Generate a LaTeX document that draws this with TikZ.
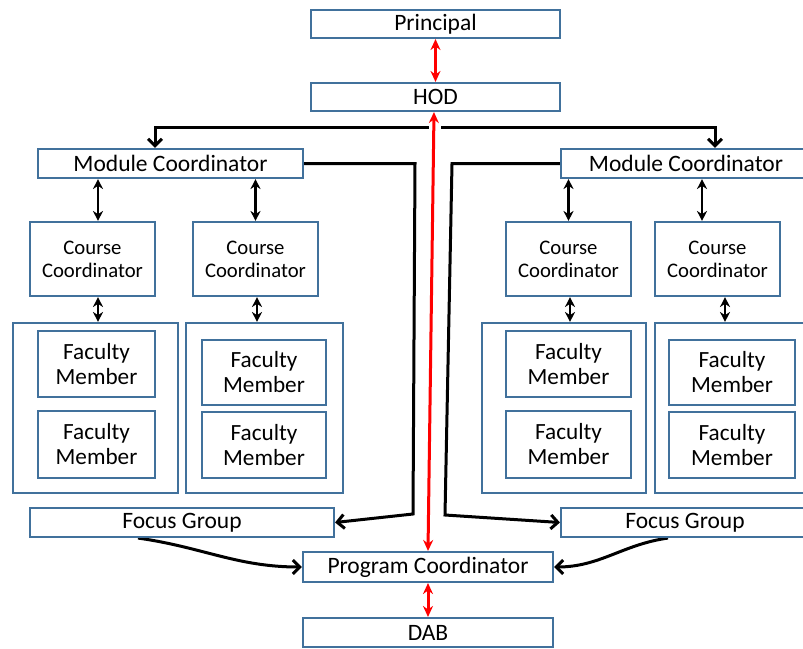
\documentclass[tikz,border=0pt]{standalone}
\usepackage{fontspec}
\setmainfont{Carlito}
\usetikzlibrary{arrows.meta}
\definecolor{boxblue}{HTML}{41719C}
\pgfdeclarelayer{bg}
\pgfsetlayers{bg,main}
\tikzset{
  box/.style={draw=boxblue, line width=2.1pt, fill=white, inner sep=0pt, align=center,
    font=\fontsize{23.5}{25}\selectfont},
  facbox/.style={box, font=\fontsize{23.2}{25}\selectfont},
  smallbox/.style={box, font=\fontsize{20.7}{23}\selectfont},
  grp/.style={draw=boxblue, line width=2.1pt, fill=white, inner sep=0pt},
  dbl/.style={line width=2.8pt, {Stealth[length=10pt,width=10pt]}-{Stealth[length=10pt,width=10pt]}},
  link/.style={line width=3pt, -{Straight Barb[length=7pt,width=14pt]}},
  redlink/.style={red, line width=3pt, {Stealth[length=11pt,width=10pt]}-{Stealth[length=11pt,width=10pt]}}
}

\begin{document}
\begin{tikzpicture}[x=1pt,y=-1pt]
  \useasboundingbox (0,0) rectangle (803,648);
  % top of the chart
  \node (prin) [box, minimum width=249pt, minimum height=28pt] at (435.5,24) {Principal};
  \node (hod) [box, minimum width=249pt, minimum height=28pt] at (435.5,97) {HOD};

  \node (mcL) [box, minimum width=265pt, minimum height=29pt] at (170.5,163.5) {Module Coordinator};
  \node (mcR) [box, minimum width=250pt, minimum height=29pt] at (686,163.5) {Module Coordinator};

  \node (ccL1) [smallbox, minimum width=125pt, minimum height=74pt] at (92.5,259) {Course\\Coordinator};
  \node (ccL2) [smallbox, minimum width=125pt, minimum height=74pt] at (255.5,259) {Course\\Coordinator};
  \node (ccR1) [smallbox, minimum width=125pt, minimum height=74pt] at (568.5,259) {Course\\Coordinator};
  \node (ccR2) [smallbox, minimum width=125pt, minimum height=74pt] at (717.5,259) {Course\\Coordinator};

  % faculty groups
  \node (gL1) [grp, minimum width=165pt, minimum height=170pt] at (95.5,408) {};
  \node (gL2) [grp, minimum width=157pt, minimum height=170pt] at (264.5,408) {};
  \node (gR1) [grp, minimum width=164pt, minimum height=170pt] at (564,408) {};
  \node (gR2) [grp, minimum width=154pt, minimum height=170pt] at (732,408) {};

  \node (fL1a) [facbox, minimum width=117pt, minimum height=66pt] at (96.5,364) {Faculty\\Member};
  \node (fL1b) [facbox, minimum width=117pt, minimum height=67pt] at (96.5,444.5) {Faculty\\Member};
  \node (fL2a) [facbox, minimum width=124pt, minimum height=65pt] at (264,372.5) {Faculty\\Member};
  \node (fL2b) [facbox, minimum width=124pt, minimum height=66pt] at (264,445) {Faculty\\Member};
  \node (fR1a) [facbox, minimum width=125pt, minimum height=66pt] at (568.5,364) {Faculty\\Member};
  \node (fR1b) [facbox, minimum width=125pt, minimum height=67pt] at (568.5,444.5) {Faculty\\Member};
  \node (fR2a) [facbox, minimum width=126pt, minimum height=65pt] at (732,372.5) {Faculty\\Member};
  \node (fR2b) [facbox, minimum width=126pt, minimum height=66pt] at (732,445) {Faculty\\Member};

  % bottom of the chart
  \node (fgL) [box, minimum width=304pt, minimum height=29pt] at (182,522.5) {Focus Group};
  \node (fgR) [box, minimum width=248pt, minimum height=29pt] at (685,522.5) {Focus Group};
  \node (pc) [box, minimum width=250pt, minimum height=30pt] at (428,567) {Program Coordinator};
  \node (dab) [box, minimum width=250pt, minimum height=29pt] at (428,632.5) {DAB};

  \coordinate (hubL) at (429,127);
  \coordinate (hubR) at (441,127);
  \coordinate (turnL) at (415,163.5);
  \coordinate (downL) at (413,514);
  \coordinate (turnR) at (452,163.5);
  \coordinate (downR) at (445,515);

  \begin{pgfonlayer}{bg}
  \draw [redlink] (prin.south) -- (hod.north);
  \draw [redlink] ([xshift=-1.5pt]hod.south) -- (pc.north);
  \draw [redlink] (pc.south) -- (dab.north);

  \draw [link, {Straight Barb[length=7pt,width=14pt]}-] ([xshift=-15.5pt]mcL.north) |- (hubL);
  \draw [link, {Straight Barb[length=7pt,width=14pt]}-] ([xshift=29pt]mcR.north) |- (hubR);

  \draw [dbl] ([xshift=5.5pt]ccL1.north) -- ([xshift=5.5pt]ccL1.north |- mcL.south);
  \draw [dbl] (ccL2.north) -- (ccL2.north |- mcL.south);
  \draw [dbl] (ccR1.north) -- (ccR1.north |- mcR.south);
  \draw [dbl] ([xshift=-15.5pt]ccR2.north) -- ([xshift=-15.5pt]ccR2.north |- mcR.south);

  \draw [dbl] ([xshift=5.5pt]ccL1.south) -- ([xshift=5.5pt]ccL1.south |- gL1.north);
  \draw [dbl] ([xshift=1.5pt]ccL2.south) -- ([xshift=1.5pt]ccL2.south |- gL2.north);
  \draw [dbl] ([xshift=1.5pt]ccR1.south) -- ([xshift=1.5pt]ccR1.south |- gR1.north);
  \draw [dbl] ([xshift=7.5pt]ccR2.south) -- ([xshift=7.5pt]ccR2.south |- gR2.north);

  \draw [link] (mcL.east) -- (turnL) -- (downL) -- (fgL.east);
  \draw [link] (mcR.west) -- (turnR) -- (downR) -- (fgR.west);

  \draw [link] ([xshift=-44pt]fgL.south) to [out=-8, in=180] (pc.west);
  \draw [link] ([xshift=-17pt]fgR.south) to [out=188, in=0] (pc.east);
  \end{pgfonlayer}
\end{tikzpicture}
\end{document}
